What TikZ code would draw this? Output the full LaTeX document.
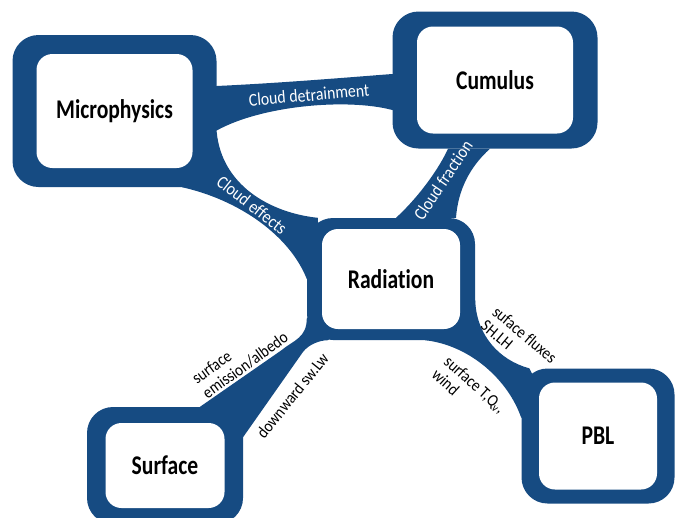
\documentclass[tikz,border=0pt]{standalone}
\usepackage{fontspec}
\setmainfont{Carlito}
\newfontfamily\boxfont[FakeStretch=0.8, Ligatures=NoCommon]{Carlito}
\newfontfamily\linkfont[FakeStretch=0.88, Ligatures=NoCommon]{Carlito}
\usetikzlibrary{calc,backgrounds}
\definecolor{schemeblue}{RGB}{22,75,130}

\begin{document}
\begin{tikzpicture}[x=1pt, y=-1pt,
    outerbox/.style={fill=schemeblue, rounded corners=26pt, inner sep=0pt},
    innerbox/.style={fill=white, rounded corners=16pt, inner sep=0pt,
        font=\boxfont\bfseries\fontsize{27}{30}\selectfont},
    band/.style={fill=schemeblue},
    bandlabel/.style={text=white, inner sep=0pt, font=\linkfont\fontsize{18}{18}\selectfont},
    sidelabel/.style={text=black, inner sep=0pt, align=left, font=\linkfont\fontsize{17}{18}\selectfont}]
    \useasboundingbox (0,0) rectangle (677,517);
    % name / centre / outer size / inner size / title
    \def\boxes{micro/114.5/111/204/152/156/114/Microphysics,
        cumulus/495/80/205/137/156/107/Cumulus,
        rad/391/279/168/122/138/100/Radiation,
        surf/165/465.5/156/117/119/85/Surface,
        pbl/598/436/153/135/118/107/PBL}
    \foreach \name/\cx/\cy/\ow/\oh/\iw/\ih/\txt in \boxes{
        \node[outerbox, minimum width=\ow pt, minimum height=\oh pt] (\name-out) at (\cx,\cy) {};
        \node[innerbox, minimum width=\iw pt, minimum height=\ih pt] (\name) at (\cx,\cy) {\txt};
    }
    % the bands go behind the boxes
    \begin{scope}[on background layer]
        % micro -- cumulus
        \fill[band] ($(micro-out.east)+(-10,-25)$) -- ($(micro-out.east)+(0,-25)$)
            .. controls +(64,-3) and +(-52,4) .. ($(cumulus-out.west)+(0,-6)$) -- ++(10,0)
            -- ($(cumulus-out.west)+(10,30)$) -- ($(cumulus-out.west)+(0,30)$)
            .. controls +(-45,-12) and +(45,-25) .. ($(micro-out.east)+(0,19.5)$) -- ++(-10,0) -- cycle;
        % micro -- rad
        \fill[band] ($(micro-out.east)+(0,21)$)
            .. controls +(5,53) and +(-48,-5) .. ($(rad-out.north west)+(11,0)$) -- ++(0,15)
            -- (rad-out.west) .. controls +(-17,-43) and +(58,13) .. ($(micro-out.south)+(67.5,0)$)
            -- ++(0,-10) -- cycle;
        % cumulus -- rad
        \fill[band] ($(cumulus-out.south)+(-47,0)$)
            .. controls +(-8,18) and +(24,-22) .. ($(rad-out.north)+(5,0)$)
            -- ($(rad-out.north)+(65,0)$)
            .. controls +(2,-28) and +(-20,18) .. ($(cumulus-out.south)+(-5,0)$) -- cycle;
        % rad -- surf
        \fill[band] ($(rad-out.west)+(0,39)$)
            .. controls +(0,20) and +(12,-10) .. ++(-25,32) -- ($(surf-out.north)+(35,0)$)
            -- (surf-out.center) -- ($(surf-out.east)+(0,-28.5)$)
            -- ($(rad-out.south west)+(-4,12)$) .. controls +(6,-8) and +(-8,0) .. ($(rad-out.south)+(-63,0)$)
            -- (rad-out.center) -- cycle;
        % rad -- pbl
        \fill[band] ($(rad-out.east)+(0,21)$)
            .. controls +(1,35) and +(-30,-8) .. ($(pbl-out.north west)+(8,0)$) -- ++(10,20)
            -- ($(pbl-out.west)+(0,-18)$)
            .. controls +(-13,-38) and +(45,5) .. ($(rad-out.south)+(34,0)$) -- ++(30,-20) -- cycle;
    \end{scope}
    % labels on the bands
    \node[bandlabel, rotate=5] (detrain) at (309,95) {Cloud detrainment};
    \node[bandlabel, rotate=-38] (effects) at (252,205) {Cloud effects};
    \node[bandlabel, rotate=56] (fraction) at (443,180) {Cloud fraction};
    % labels beside the bands
    \node[sidelabel, rotate=36] (albedo) at (240,358) {surface\\emission/albedo};
    \node[sidelabel, rotate=51] (downward) at (292.5,395.5) {downward sw.Lw};
    \node[sidelabel, rotate=-40] (fluxes) at (519,341.5) {suface fluxes\\SH.LH};
    \node[sidelabel, rotate=-42] (tqv) at (469,391) {surface T,Q\textsubscript{v},\\wind};
\end{tikzpicture}
\end{document}
